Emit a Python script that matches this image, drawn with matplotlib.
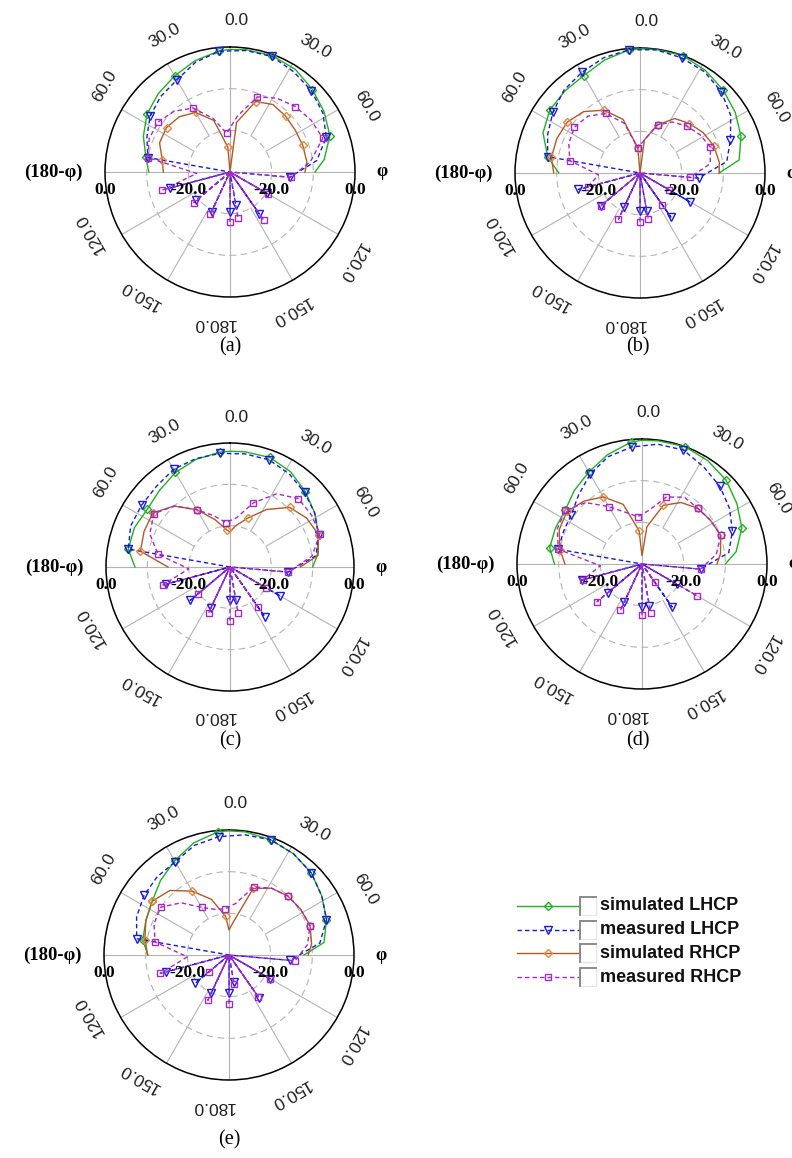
import numpy as np
import matplotlib
matplotlib.use("Agg")
import matplotlib.pyplot as plt
import matplotlib.transforms as mtransforms

# ---------------- data (dB, angle in degrees, 0 = top, clockwise positive) -------------
SIM_ANG = [-90, -80, -67.5, -55, -42.5, -30, -17.5, -5, 0, 7.5, 20, 32.5, 45, 57.5, 70, 82.5, 90]
MEAS_ANG = [-180, -167.5, -155, -142.5, -130, -117.5, -105, -92.5, -80, -67.5, -55, -42.5,
            -30, -17.5, -5, 7.5, 20, 32.5, 45, 57.5, 70, 82.5, 95, 107.5, 120, 132.5, 145,
            157.5, 170]

SIM_L_A = [-10.5, -9.5, -7.5, -5.7, -4.5, -3.4, -2.0, -0.8, -0.6, -0.4, -0.3, -0.8, -2.0, -3.2, -4.5, -7.2, -9.6]
SIM_R_A = [-14, -13.5, -11.7, -11.4, -12, -13.5, -17, -24, -30, -18, -12, -10.8, -11.1, -11.4, -11.4, -11.4, -12]
MEAS_L_A = [-20.4, -30, -19.5, -30, -19.5, -30, -15, -30, -10, -8.4, -6.6, -5.4, -4.5, -2.4, -0.9,
            -0.6, -0.5, -1.5, -2.4, -3.6, -5.4, -9, -15.6, -30, -19.8, -30, -17.7, -30, -22]
MEAS_R_A = [-18, -30, -18.9, -30, -18.6, -30, -13.2, -22, -10, -9, -9, -10.2, -12.3, -16.5, -20.7,
            -16.5, -10.8, -9, -7.8, -6.9, -6.3, -10.5, -15.3, -30, -19.5, -30, -15.9, -30, -18.9]

SIM_L_B = [-10.5, -7.5, -4.8, -3.6, -3.3, -3.0, -1.6, -0.3, -0.2, -0.1, 0, -0.8, -1.8, -2.9, -4.2, -6, -11]
SIM_R_B = [-9.3, -8.4, -8.4, -8.7, -10, -12.6, -16.5, -24, -30, -22, -17.7, -14.5, -13.2, -12, -11.1, -10.8, -11]
MEAS_L_B = [-21, -30, -21, -30, -17.7, -30, -14.7, -30, -7.5, -6, -4.5, -3, -2.1, -1, -0.3,
            -0.2, -0.6, -1.2, -2.4, -4.2, -6.9, -9, -15.9, -30, -16.2, -30, -17.1, -30, -20.7]
MEAS_R_B = [-18.3, -30, -17.7, -30, -17.7, -30, -17.1, -20, -12.9, -11.5, -10.8, -11.5, -13.5, -17.5, -24,
            -22, -17.7, -15.5, -14.1, -12.9, -12, -13, -18, -30, -22, -30, -20.7, -30, -18.9]

SIM_L_C = [-7, -5, -5, -5.6, -4.8, -3.6, -2.7, -2.1, -2, -1.9, -1.8, -2.7, -4.2, -5.7, -7.2, -8.7, -10]
SIM_R_C = [-15, -8, -7.5, -7.2, -10, -14, -18, -21, -21.5, -20, -17.4, -13.5, -9.6, -8, -7.2, -8.5, -13]
MEAS_L_C = [-22, -30, -19, -30, -17.4, -30, -14, -30, -5, -4, -3.9, -3.6, -2.7, -2.5, -2.4,
            -2.4, -2.4, -3.3, -4.5, -5.7, -7.2, -9, -15.9, -30, -15.9, -30, -15.3, -30, -22]
MEAS_R_C = [-17, -30, -17.7, -30, -19.8, -30, -13.2, -20, -12.3, -9, -7.5, -10, -14, -17, -19.2,
            -18, -13.5, -9, -6.6, -6.6, -6.9, -10, -15.9, -30, -20, -30, -18.3, -30, -18.6]

SIM_L_D = [-9, -7.5, -7.5, -7.5, -6, -4.5, -2.5, -0.6, -0.3, -0.2, 0, -0.6, -1.5, -3, -4.5, -7.2, -10]
SIM_R_D = [-11.5, -10, -8.5, -8, -9.5, -11.4, -15, -22, -28, -21, -15, -12.5, -11.1, -10.5, -9.9, -11, -12]
MEAS_L_D = [-19.8, -30, -20, -30, -19.2, -30, -15, -30, -9.6, -9.6, -9.3, -7.5, -5.1, -3, -1.8,
            -1, -0.9, -2.4, -3.6, -5.1, -6.9, -9, -15.9, -30, -20.4, -30, -17.4, -30, -19.8]
MEAS_R_D = [-17.7, -30, -17.7, -30, -15.9, -30, -15.3, -20, -9.6, -8, -7.5, -10, -14.1, -17, -18.6,
            -17, -12.9, -11, -11.1, -10.5, -9.9, -12, -15.9, -30, -14.7, -30, -24.6, -30, -18]

SIM_L_E = [-10.5, -9, -8.4, -7.5, -5.7, -3.9, -1.8, -0.3, -0.2, -0.2, -0.6, -1.2, -2.1, -3.6, -5.1, -7, -12]
SIM_R_E = [-10.5, -9.5, -8.4, -7.5, -9, -12.3, -16, -20.7, -24, -22, -13, -11, -10, -9.6, -9.3, -10, -11]
MEAS_L_E = [-21, -30, -20, -30, -19.5, -30, -14.4, -30, -7.5, -6, -5.1, -4.5, -4.2, -2.4, -1.5,
            -0.9, -0.6, -1.2, -2.1, -3.6, -5.1, -8, -15.3, -30, -18.6, -30, -17.4, -30, -23.4]
MEAS_R_E = [-18.3, -30, -18, -30, -23.7, -30, -12.9, -20, -12, -10.5, -10, -13, -16.8, -18.5, -18.9,
            -17.5, -12.6, -11, -10, -9.6, -9.3, -11, -14.1, -30, -18.6, -30, -17.7, -30, -23]

PANEL_LABELS = ["(a)", "(b)", "(c)", "(d)", "(e)"]
ANGLE_TICKS = [0, 30, -30, 60, -60, 120, -120, 150, -150, 180]
ANGLE_TICK_LABELS = ["0.0", "30.0", "30.0", "60.0", "60.0", "120.0", "120.0", "150.0", "150.0", "180.0"]
RING_TICKS = [-20, -10]
SERIES_NAMES = ["simulated LHCP", "measured LHCP", "simulated RHCP", "measured RHCP"]

# ---------------- styles ----------------
W, H = 792, 1158
DPI = 100
C_GREEN = "#22b022"
C_BLUE = "#1a1ad8"
C_BROWN = "#b05a28"
C_BROWN_M = "#e08a40"
C_PURPLE = "#a42ac8"
C_GRID = "#b4b4b4"
DASH = (0, (3.2, 2.2))

STYLES = [
    dict(color=C_GREEN, ls="-", marker="D", mec=C_GREEN, ms=4.2),
    dict(color=C_BLUE, ls=DASH, marker="v", mec=C_BLUE, ms=5.2),
    dict(color=C_BROWN, ls="-", marker="D", mec=C_BROWN_M, ms=4.2),
    dict(color=C_PURPLE, ls=DASH, marker="s", mec=C_PURPLE, ms=4.6),
]
SIM_MARK = [1, 3, 5, 7, 10, 12, 14]

# panel geometry in pixels: centre x, centre y, radius
GEOM = [(230, 172, 125), (640, 173, 125), (230, 567, 124), (642, 564, 125), (229, 955, 125)]
CAPTION_POS = [(230, 347), (638, 347), (230, 741), (638, 741), (229, 1140)]

panels = [
    (SIM_L_A, MEAS_L_A, SIM_R_A, MEAS_R_A),
    (SIM_L_B, MEAS_L_B, SIM_R_B, MEAS_R_B),
    (SIM_L_C, MEAS_L_C, SIM_R_C, MEAS_R_C),
    (SIM_L_D, MEAS_L_D, SIM_R_D, MEAS_R_D),
    (SIM_L_E, MEAS_L_E, SIM_R_E, MEAS_R_E),
]

fig = plt.figure(figsize=(W / DPI, H / DPI), dpi=DPI)
fig.patch.set_facecolor("white")

SANS = ["Liberation Sans", "DejaVu Sans"]
SERIF = ["Liberation Serif", "DejaVu Serif"]


def rad(a):
    return np.deg2rad(a)


def draw_panel(idx):
    cx, cy, R = GEOM[idx]
    rect = [(cx - R) / W, (H - cy - R) / H, 2 * R / W, 2 * R / H]
    ax = fig.add_axes(rect, projection="polar")
    ax.set_theta_zero_location("N")
    ax.set_theta_direction(-1)
    ax.set_rlim(-30, 0)
    ax.set_xticks([])
    ax.set_yticks([])
    ax.grid(False)
    ax.spines["polar"].set_color("black")
    ax.spines["polar"].set_linewidth(1.1)
    ax.set_facecolor("none")

    th = np.linspace(0, 2 * np.pi, 361)
    for rv in RING_TICKS:
        ax.plot(th, np.full_like(th, rv), color=C_GRID, lw=0.8, ls=(0, (6, 4)), zorder=1)
    for a in range(0, 360, 30):
        r0 = -30 if a % 90 == 0 else -20
        ax.plot([rad(a), rad(a)], [r0, 0], color=C_GRID, lw=0.8, zorder=1)

    sim_l, meas_l, sim_r, meas_r = panels[idx]
    series = [(SIM_ANG, sim_l, SIM_MARK), (MEAS_ANG, meas_l, 2),
              (SIM_ANG, sim_r, SIM_MARK), (MEAS_ANG, meas_r, 2)]
    for k, (ang, vals, mev) in enumerate(series):
        st = STYLES[k]
        ax.plot(rad(np.array(ang)), np.clip(np.array(vals, dtype=float), -30, 0),
                color=st["color"], ls=st["ls"], lw=1.0, marker=st["marker"],
                mfc="none", mec=st["mec"], mew=1.0, ms=st["ms"], markevery=mev,
                zorder=3 + k, clip_on=False)

    # angular labels
    for a, lab in zip(ANGLE_TICKS, ANGLE_TICK_LABELS):
        ax.text(rad(a - 2), 6.3, lab, rotation=-a, rotation_mode="anchor",
                ha="left", va="center", fontsize=12.5, family=SANS, color="#202020",
                clip_on=False)

    # radial labels along the horizontal axis
    tdown = mtransforms.offset_copy(ax.transData, fig=fig, x=0, y=-18, units="dots")
    for a in (90, -90):
        ax.text(rad(a), 0, "0.0", transform=tdown, ha="center", va="center",
                fontsize=12.5, fontweight="bold", family=SERIF, clip_on=False)
        ax.text(rad(a), -20, "-20.0", transform=tdown, ha="center", va="center",
                fontsize=12.5, fontweight="bold", family=SERIF, clip_on=False, zorder=10)
    tleft = mtransforms.offset_copy(ax.transData, fig=fig, x=-22, y=0, units="dots")
    tright = mtransforms.offset_copy(ax.transData, fig=fig, x=21, y=0, units="dots")
    ax.text(rad(-90), 0, "(180-φ)", transform=tleft, ha="right", va="center",
            fontsize=13.5, fontweight="bold", family=SERIF, clip_on=False)
    ax.text(rad(90), 0, "φ", transform=tright, ha="left", va="center",
            fontsize=13, fontweight="bold", family=SERIF, clip_on=False)

    px, py = CAPTION_POS[idx]
    fig.text(px / W, 1 - py / H, PANEL_LABELS[idx], ha="center", va="center",
             fontsize=14.5, family=SERIF)


for i in range(5):
    draw_panel(i)

# ---------------- legend (pixel coordinates overlay) ----------------
lg = fig.add_axes([0, 0, 1, 1], facecolor="none")
lg.set_xlim(0, W)
lg.set_ylim(H, 0)
lg.axis("off")
ROW_Y = [906, 930, 953, 977]
for k, (name, y) in enumerate(zip(SERIES_NAMES, ROW_Y)):
    st = STYLES[k]
    lg.plot([517, 580], [y, y], color=st["color"], ls=st["ls"], lw=1.0)
    lg.plot([548], [y], ls="none", marker=st["marker"], mfc="none", mec=st["mec"],
            mew=1.0, ms=st["ms"])
    lg.plot([580, 580, 596], [y + 9, y - 9, y - 9], color="#8a8a8a", lw=1.4,
            solid_joinstyle="miter")
    lg.plot([596, 596, 581], [y - 8, y + 9, y + 9], color="#e6e6e6", lw=1.0)
    lg.text(600, y, name, ha="left", va="center", fontsize=13, fontweight="bold",
            family=SANS, color="#111111")

fig.savefig("out.png", dpi=DPI, facecolor="white")
